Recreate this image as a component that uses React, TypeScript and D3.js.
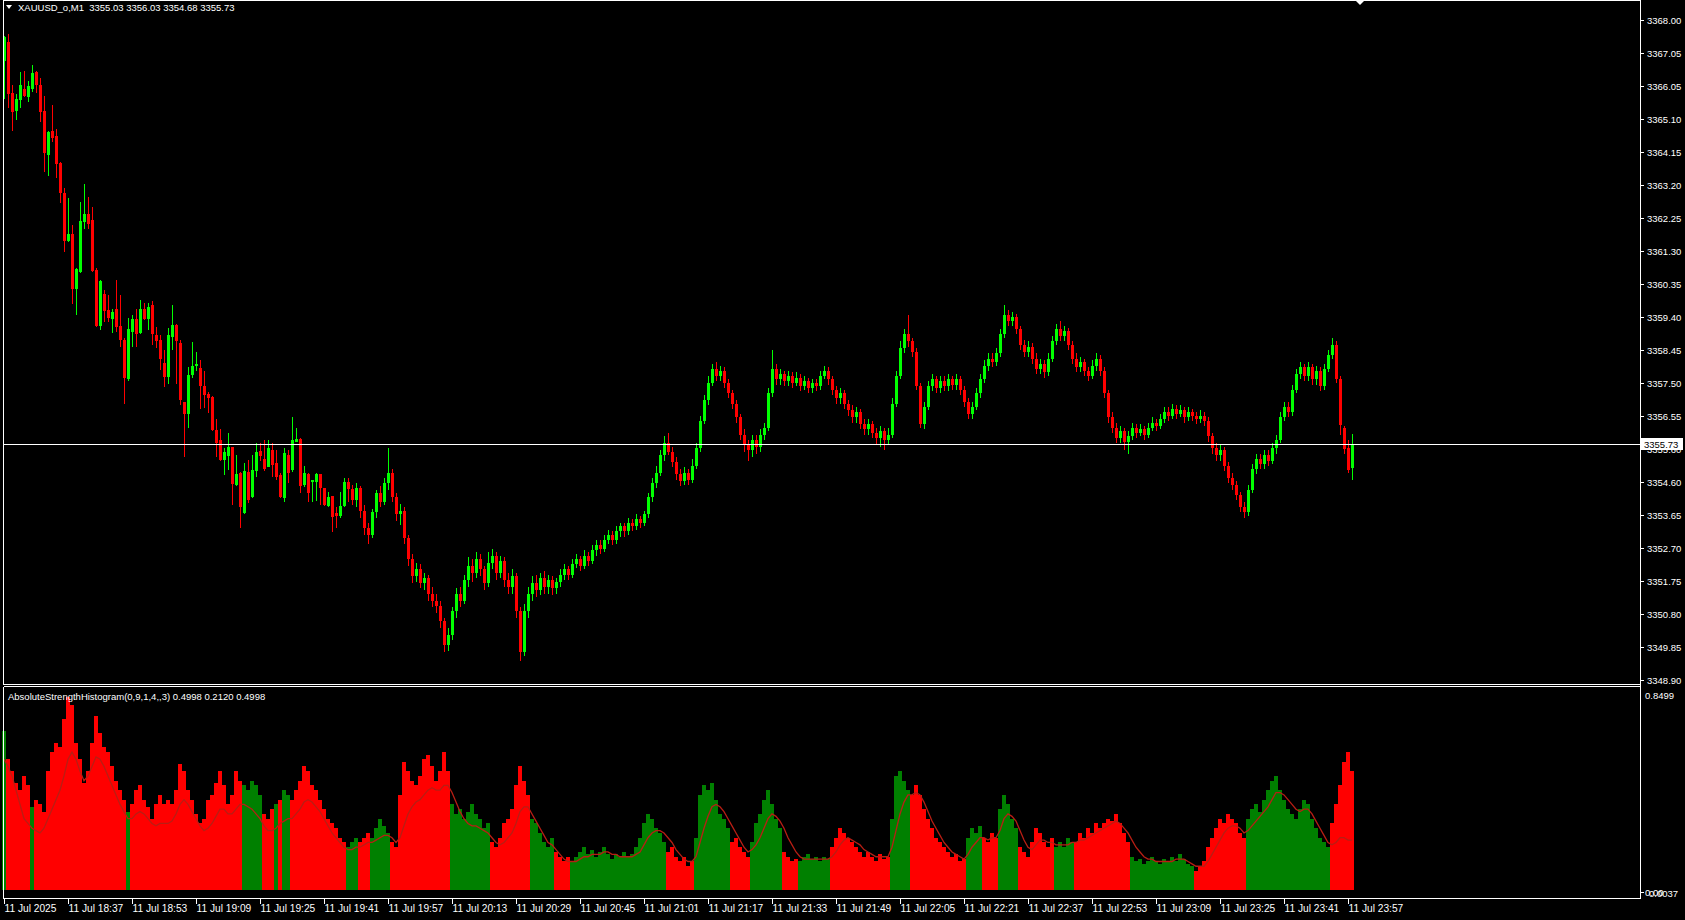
import React from "react";
import * as d3 from "d3";

const opens = [
3366.81,3367.37,3365.88,3365.37,3365.68,3366.00,3365.78,3365.99,3366.50,3366.12,
3365.37,3364.09,3364.79,3364.65,3363.87,3363.00,3361.60,3361.82,3360.21,3360.70,
3362.14,3362.40,3362.21,3360.76,3359.15,3360.08,3359.60,3359.35,3359.63,3359.14,
3358.74,3357.60,3358.98,3359.34,3358.95,3359.65,3359.34,3359.75,3358.88,3358.74,
3358.06,3357.66,3358.83,3359.17,3358.66,3356.95,3356.60,3357.72,3358.00,3357.92,
3357.41,3357.18,3357.10,3356.13,3355.84,3355.27,3355.38,3355.65,3354.54,3354.90,
3353.72,3354.93,3354.20,3354.96,3355.54,3355.31,3355.07,3355.57,3355.17,3354.83,
3354.16,3355.41,3354.99,3355.80,3355.86,3354.54,3354.86,3354.64,3354.64,3354.86,
3354.45,3353.93,3354.22,3353.72,3353.64,3353.94,3354.64,3354.42,3354.10,3354.45,
3353.80,3353.30,3353.10,3353.75,3354.30,3354.05,3354.60,3354.90,3354.20,3353.70,
3353.80,3353.00,3352.40,3351.90,3352.10,3351.70,3351.85,3351.40,3351.20,3351.05,
3350.60,3349.90,3350.20,3350.90,3351.40,3351.20,3351.80,3352.20,3352.00,3352.40,
3352.10,3351.70,3352.30,3352.50,3352.00,3352.35,3351.80,3351.60,3351.90,3350.90,
3349.70,3350.90,3351.40,3351.70,3351.50,3351.85,3351.60,3351.80,3351.55,3351.75,
3351.95,3352.10,3351.95,3352.25,3352.40,3352.20,3352.50,3352.35,3352.65,3352.80,
3352.70,3352.95,3353.10,3352.95,3353.20,3353.35,3353.20,3353.45,3353.35,3353.55,
3353.45,3353.70,3354.20,3354.60,3354.90,3355.40,3355.75,3355.50,3355.20,3354.85,
3354.65,3354.90,3354.70,3355.10,3355.60,3356.40,3357.00,3357.50,3357.90,3357.70,
3357.85,3357.50,3357.20,3356.90,3356.50,3356.00,3355.70,3355.55,3355.85,3355.65,
3356.00,3356.20,3357.20,3357.90,3357.60,3357.75,3357.55,3357.70,3357.50,3357.65,
3357.40,3357.55,3357.35,3357.50,3357.40,3357.70,3357.85,3357.60,3357.30,3357.05,
3357.20,3356.90,3356.70,3356.50,3356.65,3356.30,3356.15,3356.30,3356.05,3355.90,
3356.10,3355.85,3356.00,3356.90,3357.70,3358.50,3358.90,3358.70,3358.40,3357.40,
3356.30,3356.80,3357.40,3357.60,3357.35,3357.55,3357.40,3357.60,3357.45,3357.60,
3357.30,3356.95,3356.60,3356.80,3357.20,3357.60,3358.00,3358.20,3358.10,3358.35,
3358.90,3359.45,3359.30,3359.40,3359.05,3358.60,3358.40,3358.55,3358.20,3357.90,
3358.05,3357.80,3358.20,3358.70,3359.05,3358.85,3359.00,3358.60,3358.20,3357.95,
3358.10,3357.85,3357.70,3358.00,3358.20,3357.85,3357.20,3356.50,3356.20,3355.90,
3356.10,3355.80,3355.95,3356.20,3356.05,3356.15,3356.00,3356.20,3356.35,3356.25,
3356.45,3356.65,3356.55,3356.75,3356.60,3356.70,3356.50,3356.65,3356.55,3356.45,
3356.55,3356.40,3355.95,3355.60,3355.40,3355.55,3355.10,3354.75,3354.55,3354.25,
3353.90,3353.75,3354.40,3355.00,3355.30,3355.15,3355.40,3355.25,3355.60,3355.85,
3356.50,3356.80,3356.65,3357.30,3357.75,3357.95,3357.70,3357.95,3357.60,3357.85,
3357.40,3357.90,3358.30,3358.60,3357.60,3356.19,3355.60,3355.03
];

const highs = [
3367.55,3367.59,3366.12,3365.85,3366.50,3366.52,3366.23,3366.70,3366.52,3366.33,
3365.81,3364.78,3365.54,3364.86,3363.90,3363.13,3362.84,3362.07,3360.81,3362.74,
3363.24,3362.89,3362.60,3360.83,3360.47,3360.19,3360.04,3359.65,3360.47,3360.04,
3358.79,3359.37,3359.46,3359.63,3359.90,3359.82,3359.80,3359.88,3359.12,3358.88,
3358.45,3359.08,3359.75,3359.20,3358.74,3356.95,3357.95,3358.69,3358.40,3358.16,
3357.85,3357.24,3357.12,3356.44,3356.15,3355.60,3356.04,3355.65,3355.41,3354.93,
3355.17,3355.28,3355.41,3355.77,3355.75,3355.84,3355.84,3355.77,3355.55,3354.88,
3355.60,3355.55,3356.50,3356.18,3355.89,3355.09,3354.88,3354.69,3354.90,3354.86,
3354.45,3354.35,3354.22,3353.91,3354.35,3354.74,3354.76,3354.55,3354.60,3354.50,
3353.95,3353.45,3353.85,3354.40,3354.50,3354.75,3355.60,3355.00,3354.30,3354.00,
3353.90,3353.10,3352.55,3352.30,3352.25,3352.00,3351.95,3351.60,3351.40,3351.20,
3350.70,3350.40,3351.00,3351.55,3351.60,3351.95,3352.45,3352.40,3352.60,3352.55,
3352.20,3352.60,3352.70,3352.60,3352.50,3352.45,3352.00,3352.10,3352.00,3351.00,
3351.10,3351.60,3351.90,3351.95,3352.00,3352.05,3351.95,3351.90,3351.85,3352.10,
3352.25,3352.20,3352.40,3352.55,3352.50,3352.65,3352.60,3352.80,3352.95,3352.95,
3353.10,3353.25,3353.20,3353.35,3353.45,3353.45,3353.60,3353.55,3353.70,3353.65,
3353.80,3354.30,3354.75,3355.10,3355.55,3355.95,3356.05,3355.65,3355.35,3355.00,
3355.05,3355.00,3355.30,3355.75,3356.55,3357.15,3357.70,3358.05,3358.10,3358.00,
3357.95,3357.60,3357.30,3357.00,3356.60,3356.15,3355.85,3356.00,3356.00,3356.15,
3356.35,3357.35,3358.45,3358.05,3357.90,3357.85,3357.85,3357.80,3357.80,3357.75,
3357.70,3357.65,3357.60,3357.60,3357.85,3358.00,3357.95,3357.70,3357.40,3357.35,
3357.30,3357.00,3356.85,3356.80,3356.75,3356.45,3356.45,3356.40,3356.20,3356.25,
3356.20,3356.20,3357.05,3357.85,3358.70,3359.05,3359.45,3358.80,3358.50,3357.50,
3356.95,3357.55,3357.75,3357.70,3357.70,3357.70,3357.75,3357.70,3357.75,3357.70,
3357.40,3357.05,3356.95,3357.35,3357.75,3358.15,3358.35,3358.35,3358.50,3359.05,
3359.75,3359.60,3359.55,3359.50,3359.15,3358.75,3358.70,3358.65,3358.35,3358.20,
3358.15,3358.35,3358.85,3359.20,3359.30,3359.15,3359.10,3358.70,3358.35,3358.25,
3358.20,3357.95,3358.15,3358.35,3358.30,3357.95,3357.30,3356.65,3356.35,3356.25,
3356.20,3356.10,3356.35,3356.30,3356.30,3356.25,3356.35,3356.50,3356.45,3356.60,
3356.80,3356.80,3356.90,3356.85,3356.85,3356.80,3356.80,3356.75,3356.65,3356.70,
3356.65,3356.50,3356.05,3355.75,3355.70,3355.65,3355.20,3354.90,3354.65,3354.35,
3354.05,3354.55,3355.15,3355.45,3355.45,3355.55,3355.55,3355.75,3356.00,3356.65,
3356.95,3356.95,3357.45,3357.90,3358.10,3358.05,3358.10,3358.05,3358.00,3357.95,
3358.05,3358.45,3358.80,3358.70,3357.70,3356.25,3355.85,3356.03
];

const lows = [
3365.71,3365.44,3364.79,3365.11,3365.46,3365.78,3365.64,3365.93,3365.88,3365.06,
3363.61,3363.49,3364.48,3363.42,3362.69,3361.29,3361.58,3359.77,3359.46,3360.67,
3361.95,3361.95,3360.72,3359.12,3359.03,3359.27,3359.25,3358.93,3358.98,3358.55,
3356.88,3357.56,3358.55,3358.55,3358.91,3359.32,3359.03,3358.59,3358.50,3357.87,
3357.39,3357.46,3358.45,3357.48,3356.86,3355.36,3356.18,3357.63,3357.85,3356.73,
3356.76,3356.62,3356.11,3355.36,3355.25,3354.83,3354.98,3353.96,3354.51,3353.29,
3353.70,3354.03,3354.16,3354.78,3355.25,3354.96,3355.05,3354.78,3354.69,3354.16,
3354.06,3354.61,3354.93,3355.79,3354.32,3354.49,3354.06,3354.06,3354.09,3353.96,
3353.93,3353.91,3353.19,3353.29,3353.58,3353.91,3354.06,3353.95,3353.90,3353.60,
3353.10,3352.85,3353.00,3353.60,3353.90,3353.95,3354.40,3354.05,3353.50,3353.40,
3352.85,3352.20,3351.70,3351.75,3351.55,3351.50,3351.20,3351.00,3350.85,3350.40,
3349.70,3349.75,3350.05,3350.70,3351.00,3351.10,3351.60,3351.75,3351.85,3351.90,
3351.50,3351.60,3352.10,3351.80,3351.85,3351.60,3351.40,3351.40,3350.70,3349.45,
3349.60,3350.70,3351.20,3351.30,3351.35,3351.40,3351.40,3351.35,3351.40,3351.60,
3351.80,3351.80,3351.85,3352.15,3352.05,3352.10,3352.20,3352.25,3352.50,3352.55,
3352.60,3352.85,3352.80,3352.85,3353.05,3353.05,3353.10,3353.20,3353.25,3353.30,
3353.35,3353.60,3354.05,3354.45,3354.80,3355.25,3355.40,3355.05,3354.70,3354.50,
3354.55,3354.55,3354.60,3355.00,3355.50,3356.30,3356.85,3357.40,3357.55,3357.55,
3357.35,3357.05,3356.75,3356.35,3355.85,3355.50,3355.25,3355.35,3355.45,3355.50,
3355.85,3356.10,3357.10,3357.45,3357.45,3357.40,3357.40,3357.35,3357.40,3357.25,
3357.30,3357.20,3357.20,3357.25,3357.30,3357.60,3357.45,3357.15,3356.90,3356.90,
3356.75,3356.55,3356.35,3356.35,3356.15,3356.00,3356.00,3355.90,3355.70,3355.65,
3355.55,3355.70,3355.90,3356.80,3357.60,3358.35,3358.55,3358.25,3357.30,3356.20,
3356.15,3356.70,3357.25,3357.20,3357.20,3357.25,3357.25,3357.30,3357.30,3357.15,
3356.80,3356.45,3356.45,3356.70,3357.05,3357.50,3357.85,3357.95,3358.00,3358.25,
3358.80,3359.15,3359.15,3358.90,3358.45,3358.25,3358.25,3358.05,3357.75,3357.75,
3357.65,3357.70,3358.10,3358.60,3358.70,3358.70,3358.45,3358.05,3357.80,3357.80,
3357.70,3357.55,3357.60,3357.85,3357.70,3357.05,3356.35,3356.05,3355.75,3355.75,
3355.55,3355.45,3355.85,3355.90,3355.95,3355.85,3355.90,3356.10,3356.10,3356.15,
3356.35,3356.40,3356.45,3356.45,3356.50,3356.35,3356.40,3356.40,3356.30,3356.35,
3356.25,3355.80,3355.45,3355.25,3355.25,3354.95,3354.60,3354.40,3354.10,3353.75,
3353.60,3353.65,3354.30,3354.85,3355.00,3355.00,3355.10,3355.15,3355.45,3355.75,
3356.40,3356.50,3356.55,3357.20,3357.60,3357.55,3357.55,3357.45,3357.45,3357.25,
3357.30,3357.80,3358.20,3357.50,3356.00,3355.44,3354.90,3354.68
];

const closes = [
3367.52,3365.85,3365.35,3365.71,3366.12,3365.80,3366.09,3366.46,3366.12,3365.35,
3364.14,3364.77,3364.59,3363.82,3362.98,3361.60,3361.82,3360.21,3360.79,3362.18,
3362.38,3362.11,3360.73,3359.15,3360.45,3359.58,3359.38,3359.56,3359.12,3358.74,
3357.63,3359.05,3359.34,3358.90,3359.65,3359.34,3359.68,3358.91,3358.72,3358.18,
3357.66,3358.88,3359.17,3358.72,3357.00,3356.60,3357.73,3357.99,3358.04,3357.41,
3357.15,3357.05,3356.13,3355.75,3355.27,3355.51,3355.65,3354.57,3354.86,3353.90,
3354.96,3354.11,3354.99,3355.51,3355.38,3355.02,3355.60,3355.12,3354.78,3354.20,
3355.46,3354.88,3355.84,3355.86,3354.51,3354.88,3354.30,3354.69,3354.86,3354.45,
3353.96,3354.19,3353.61,3353.64,3353.94,3354.64,3354.42,3354.10,3354.45,3353.80,
3353.30,3353.10,3353.75,3354.30,3354.05,3354.60,3354.90,3354.20,3353.70,3353.80,
3353.00,3352.40,3351.90,3352.10,3351.70,3351.85,3351.40,3351.20,3351.05,3350.60,
3349.90,3350.20,3350.90,3351.40,3351.20,3351.80,3352.20,3352.00,3352.40,3352.10,
3351.70,3352.30,3352.50,3352.00,3352.35,3351.80,3351.60,3351.90,3350.90,3349.70,
3350.90,3351.40,3351.70,3351.50,3351.85,3351.60,3351.80,3351.55,3351.75,3351.95,
3352.10,3351.95,3352.25,3352.40,3352.20,3352.50,3352.35,3352.65,3352.80,3352.70,
3352.95,3353.10,3352.95,3353.20,3353.35,3353.20,3353.45,3353.35,3353.55,3353.45,
3353.70,3354.20,3354.60,3354.90,3355.40,3355.75,3355.50,3355.20,3354.85,3354.65,
3354.90,3354.70,3355.10,3355.60,3356.40,3357.00,3357.50,3357.90,3357.70,3357.85,
3357.50,3357.20,3356.90,3356.50,3356.00,3355.70,3355.55,3355.85,3355.65,3356.00,
3356.20,3357.20,3357.90,3357.60,3357.75,3357.55,3357.70,3357.50,3357.65,3357.40,
3357.55,3357.35,3357.50,3357.40,3357.70,3357.85,3357.60,3357.30,3357.05,3357.20,
3356.90,3356.70,3356.50,3356.65,3356.30,3356.15,3356.30,3356.05,3355.90,3356.10,
3355.85,3356.00,3356.90,3357.70,3358.50,3358.90,3358.70,3358.40,3357.40,3356.30,
3356.80,3357.40,3357.60,3357.35,3357.55,3357.40,3357.60,3357.45,3357.60,3357.30,
3356.95,3356.60,3356.80,3357.20,3357.60,3358.00,3358.20,3358.10,3358.35,3358.90,
3359.45,3359.30,3359.40,3359.05,3358.60,3358.40,3358.55,3358.20,3357.90,3358.05,
3357.80,3358.20,3358.70,3359.05,3358.85,3359.00,3358.60,3358.20,3357.95,3358.10,
3357.85,3357.70,3358.00,3358.20,3357.85,3357.20,3356.50,3356.20,3355.90,3356.10,
3355.80,3355.95,3356.20,3356.05,3356.15,3356.00,3356.20,3356.35,3356.25,3356.45,
3356.65,3356.55,3356.75,3356.60,3356.70,3356.50,3356.65,3356.55,3356.45,3356.55,
3356.40,3355.95,3355.60,3355.40,3355.55,3355.10,3354.75,3354.55,3354.25,3353.90,
3353.75,3354.40,3355.00,3355.30,3355.15,3355.40,3355.25,3355.60,3355.85,3356.50,
3356.80,3356.65,3357.30,3357.75,3357.95,3357.70,3357.95,3357.60,3357.85,3357.40,
3357.90,3358.30,3358.60,3357.60,3356.28,3355.58,3354.98,3355.73
];

// Absolute strength histogram: positive = bulls dominant (green), negative = bears dominant (red)
const strength = [
0.67,-0.55,-0.50,-0.45,-0.42,-0.48,-0.44,0.35,-0.38,-0.36,
-0.33,-0.50,-0.58,-0.62,-0.60,-0.72,-0.81,-0.78,-0.62,-0.55,
-0.45,-0.50,-0.62,-0.73,-0.66,-0.60,-0.58,-0.52,-0.46,-0.42,
-0.38,0.33,-0.36,-0.42,-0.44,-0.38,-0.35,-0.30,-0.36,-0.40,
-0.36,-0.38,-0.36,-0.42,-0.53,-0.50,-0.42,-0.38,-0.32,-0.28,
-0.30,-0.38,-0.40,-0.45,-0.50,-0.44,-0.36,-0.40,-0.50,-0.46,
0.44,0.42,0.46,0.44,0.40,-0.32,-0.30,-0.34,0.36,-0.38,
0.42,0.40,-0.38,-0.42,-0.46,-0.52,-0.50,-0.44,-0.42,-0.38,
-0.34,-0.30,-0.28,-0.26,-0.22,-0.20,0.18,0.20,0.22,-0.20,
-0.22,-0.24,0.22,0.26,0.30,0.27,0.24,-0.20,-0.18,-0.40,
-0.54,-0.50,-0.46,-0.44,-0.48,-0.55,-0.57,-0.52,-0.46,-0.50,
-0.58,-0.50,0.36,0.32,0.34,0.30,0.33,0.36,0.32,0.30,
0.26,0.28,-0.20,-0.18,-0.22,-0.28,-0.30,-0.34,-0.44,-0.52,
-0.46,-0.40,0.30,0.28,0.24,0.20,0.18,0.22,-0.16,-0.14,
-0.12,-0.14,0.12,0.14,0.16,0.18,0.15,0.17,0.14,0.16,
0.18,0.15,0.13,0.15,0.14,0.16,0.14,0.15,0.18,0.22,
0.28,0.32,0.30,0.26,0.24,0.20,-0.16,-0.18,-0.14,-0.12,
-0.14,-0.10,-0.12,0.22,0.40,0.44,0.42,0.45,0.38,0.32,
0.30,0.26,-0.20,-0.22,-0.18,-0.16,-0.14,0.20,0.28,0.32,
0.38,0.42,0.36,0.30,0.26,-0.16,-0.14,-0.12,-0.13,0.12,
0.14,0.15,0.13,0.14,0.12,0.14,0.13,-0.18,-0.22,-0.26,
-0.24,-0.22,-0.20,-0.18,-0.16,-0.14,-0.16,-0.14,-0.12,-0.15,
-0.13,-0.14,0.30,0.48,0.50,0.46,0.42,-0.40,-0.44,-0.40,
-0.34,-0.30,-0.26,-0.22,-0.20,-0.18,-0.16,-0.14,-0.15,-0.12,
-0.13,0.22,0.26,0.24,0.27,-0.22,-0.20,-0.24,-0.22,0.34,
0.40,0.36,0.30,0.26,-0.18,-0.16,-0.14,-0.20,-0.26,-0.24,
-0.20,-0.18,-0.22,0.18,0.20,0.18,0.22,0.20,-0.20,-0.24,
-0.22,-0.26,-0.24,-0.28,-0.26,-0.28,-0.30,-0.29,-0.32,-0.28,
-0.24,-0.20,0.14,0.12,0.13,0.11,0.12,0.14,0.12,0.11,
0.13,0.12,0.14,0.12,0.15,0.13,0.11,0.10,-0.08,-0.10,
-0.12,-0.18,-0.22,-0.26,-0.30,-0.28,-0.32,-0.30,-0.28,-0.24,
-0.22,0.30,0.34,0.36,0.33,0.38,0.42,0.46,0.48,0.42,
0.38,0.34,0.32,0.30,0.34,0.38,0.36,0.30,0.26,0.22,
0.20,0.18,-0.28,-0.36,-0.44,-0.54,-0.58,-0.50
];

const signal = [
0.55,0.52,0.48,0.42,0.36,0.30,0.28,0.26,0.25,0.24,
0.26,0.30,0.34,0.38,0.42,0.48,0.55,0.58,0.55,0.50,
0.46,0.48,0.52,0.56,0.55,0.52,0.48,0.44,0.40,0.36,
0.33,0.30,0.30,0.32,0.33,0.32,0.30,0.28,0.27,0.28,
0.28,0.28,0.29,0.32,0.36,0.38,0.36,0.33,0.30,0.27,
0.25,0.26,0.28,0.31,0.34,0.34,0.32,0.32,0.34,0.36,
0.36,0.35,0.34,0.32,0.30,0.27,0.25,0.25,0.26,0.28,
0.29,0.30,0.30,0.32,0.34,0.37,0.38,0.37,0.35,0.33,
0.30,0.27,0.24,0.22,0.20,0.18,0.17,0.17,0.18,0.18,
0.19,0.20,0.20,0.21,0.22,0.23,0.23,0.22,0.20,0.22,
0.27,0.32,0.35,0.37,0.38,0.40,0.42,0.43,0.42,0.42,
0.44,0.44,0.41,0.37,0.33,0.30,0.28,0.27,0.27,0.26,
0.25,0.24,0.22,0.20,0.19,0.20,0.22,0.24,0.28,0.33,
0.35,0.35,0.32,0.29,0.26,0.23,0.20,0.19,0.17,0.15,
0.13,0.12,0.12,0.12,0.13,0.14,0.14,0.15,0.15,0.15,
0.16,0.16,0.15,0.15,0.14,0.14,0.14,0.14,0.15,0.16,
0.19,0.22,0.24,0.25,0.25,0.24,0.22,0.20,0.17,0.15,
0.13,0.12,0.12,0.14,0.20,0.26,0.31,0.35,0.36,0.35,
0.33,0.30,0.27,0.24,0.21,0.18,0.16,0.17,0.19,0.22,
0.26,0.30,0.32,0.31,0.29,0.26,0.22,0.19,0.16,0.14,
0.13,0.13,0.13,0.13,0.13,0.13,0.13,0.14,0.16,0.19,
0.21,0.22,0.21,0.20,0.19,0.17,0.16,0.15,0.14,0.14,
0.14,0.14,0.18,0.25,0.32,0.37,0.40,0.40,0.41,0.40,
0.37,0.33,0.29,0.26,0.23,0.20,0.18,0.16,0.15,0.14,
0.13,0.15,0.18,0.20,0.22,0.22,0.21,0.22,0.22,0.25,
0.30,0.32,0.31,0.29,0.25,0.21,0.18,0.17,0.19,0.21,
0.21,0.20,0.20,0.19,0.19,0.19,0.19,0.20,0.20,0.21,
0.21,0.22,0.23,0.24,0.25,0.26,0.27,0.28,0.29,0.28,
0.26,0.24,0.21,0.18,0.16,0.14,0.13,0.13,0.12,0.12,
0.12,0.12,0.12,0.13,0.13,0.13,0.12,0.11,0.10,0.10,
0.10,0.12,0.15,0.18,0.21,0.24,0.26,0.27,0.27,0.26,
0.24,0.25,0.27,0.29,0.31,0.33,0.35,0.38,0.41,0.41,
0.40,0.38,0.36,0.34,0.33,0.34,0.34,0.32,0.29,0.26,
0.23,0.20,0.19,0.20,0.22,0.22,0.21,0.21
];

const priceLabels = [
"3368.00","3367.05","3366.05","3365.10","3364.15","3363.20","3362.25","3361.30","3360.35","3359.40","3358.45",
"3357.50","3356.55","3355.60","3354.60","3353.65","3352.70","3351.75","3350.80","3349.85","3348.90"
];

const timeLabels = [
"11 Jul 2025","11 Jul 18:37","11 Jul 18:53","11 Jul 19:09","11 Jul 19:25","11 Jul 19:41","11 Jul 19:57",
"11 Jul 20:13","11 Jul 20:29","11 Jul 20:45","11 Jul 21:01","11 Jul 21:17","11 Jul 21:33","11 Jul 21:49",
"11 Jul 22:05","11 Jul 22:21","11 Jul 22:37","11 Jul 22:53","11 Jul 23:09","11 Jul 23:25","11 Jul 23:41","11 Jul 23:57"
];

const headerMain = "XAUUSD_o,M1  3355.03 3356.03 3354.68 3355.73";
const headerInd = "AbsoluteStrengthHistogram(0,9,1,4,,3) 0.4998 0.2120 0.4998";
const lastPrice = 3355.73;
const priceMin = 3348.9;
const priceMax = 3368.0;
const indMax = 0.8499;

const W = 1685;
const H = 920;
const FONT = "Tahoma, 'Liberation Sans', Arial, sans-serif";
const BULL = "#00ff00";
const BEAR = "#ff0000";

export default function App() {
  const n = closes.length;
  const x = d3.scaleLinear().domain([0, n - 1]).range([4, 4 + 4 * (n - 1)]);
  const y = d3.scaleLinear().domain([priceMin, priceMax]).range([680, 20]);
  const yi = d3.scaleLinear().domain([0, indMax]).range([890, 688]);
  const step = (priceMax - priceMin) / (priceLabels.length - 1);

  const sigLine = d3
    .line<number>()
    .x((_, i) => x(i))
    .y((d) => yi(d))(signal) as string;

  const lastY = Math.round(y(lastPrice)) + 0.5;

  return (
    <svg
      width={W}
      height={H}
      style={{ position: "absolute", left: 0, top: 0, display: "block", background: "#000" }}
      fontFamily={FONT}
    >
      <rect x={0} y={0} width={W} height={H} fill="#000" />

      {/* indicator histogram */}
      <g shapeRendering="crispEdges">
        {strength.map((v, i) => {
          const top = Math.round(yi(Math.abs(v)));
          const cx = Math.round(x(i));
          return (
            <rect
              key={"h" + i}
              x={cx - 2}
              y={top}
              width={4}
              height={Math.max(0, 890 - top)}
              fill={v >= 0 ? "#008000" : BEAR}
            />
          );
        })}
      </g>
      <path d={sigLine} fill="none" stroke="#b81e14" strokeWidth={1.3} />

      {/* candles */}
      <g shapeRendering="crispEdges">
        {closes.map((c, i) => {
          const o = opens[i];
          const col = c >= o ? BULL : BEAR;
          const cx = Math.round(x(i));
          const yH = Math.round(y(highs[i]));
          const yL = Math.round(y(lows[i]));
          const yO = Math.round(y(o));
          const yC = Math.round(y(c));
          const bt = Math.min(yO, yC);
          const bh = Math.max(1, Math.abs(yO - yC));
          return (
            <g key={"c" + i}>
              <rect x={cx} y={yH} width={1} height={Math.max(1, yL - yH)} fill={col} />
              <rect x={cx - 1} y={bt} width={3} height={bh} fill={col} />
            </g>
          );
        })}
      </g>

      {/* current price line */}
      <line x1={3} x2={1640} y1={lastY} y2={lastY} stroke="#fff" strokeWidth={1} />

      {/* frames */}
      <g stroke="#fff" strokeWidth={1} shapeRendering="crispEdges" fill="none">
        <line x1={3.5} x2={1640.5} y1={0.5} y2={0.5} />
        <line x1={3.5} x2={3.5} y1={0} y2={684.5} />
        <line x1={3.5} x2={1640.5} y1={684.5} y2={684.5} />
        <line x1={3.5} x2={1640.5} y1={686.5} y2={686.5} />
        <line x1={3.5} x2={3.5} y1={686.5} y2={898.5} />
        <line x1={3.5} x2={1640.5} y1={898.5} y2={898.5} />
        <line x1={1640.5} x2={1640.5} y1={0} y2={898.5} />
      </g>

      {/* price axis */}
      <g fill="#fff" fontSize={9.5}>
        {priceLabels.map((t, k) => {
          const py = Math.round(y(priceMax - k * step)) + 0.5;
          return (
            <g key={"p" + k}>
              <line x1={1641} x2={1644} y1={py} y2={py} stroke="#fff" shapeRendering="crispEdges" />
              <text x={1647} y={py} dominantBaseline="central">
                {t}
              </text>
            </g>
          );
        })}
      </g>
      <rect x={1641} y={lastY - 6.5} width={42} height={12} fill="#fff" />
      <text x={1644} y={lastY} dominantBaseline="central" fontSize={9.5} fill="#000">
        {lastPrice.toFixed(2)}
      </text>

      {/* indicator axis */}
      <g fill="#fff" fontSize={9.5}>
        <text x={1645} y={695} dominantBaseline="central">{indMax.toFixed(4)}</text>
        <line x1={1641} x2={1644} y1={892.5} y2={892.5} stroke="#fff" />
        <text x={1645} y={892} dominantBaseline="central">0.00</text>
        <text x={1649} y={893} dominantBaseline="central">0.0037</text>
      </g>

      {/* time axis */}
      <g fill="#fff" fontSize={10.2}>
        {timeLabels.map((t, k) => {
          const tx = Math.round(x(k * 16)) + 0.5;
          return (
            <g key={"t" + k}>
              <line x1={tx} x2={tx} y1={899} y2={904} stroke="#fff" shapeRendering="crispEdges" />
              <text x={tx} y={912}>{t}</text>
            </g>
          );
        })}
      </g>

      {/* headers */}
      <path d="M6,5 L12,5 L9,9 Z" fill="#fff" />
      <text x={18} y={11} fontSize={9.5} fill="#fff" style={{ whiteSpace: "pre" }}>
        {headerMain}
      </text>
      <text x={8} y={700} fontSize={9.5} fill="#fff">
        {headerInd}
      </text>
      <path d={`M${Math.round(x(n - 1)) + 3},0 L${Math.round(x(n - 1)) + 13},0 L${Math.round(x(n - 1)) + 8},5 Z`} fill="#fff" />
    </svg>
  );
}
